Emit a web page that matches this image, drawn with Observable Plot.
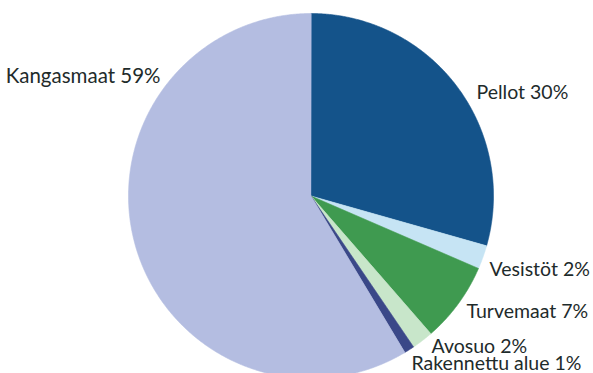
<!DOCTYPE html>
<html>
<head>
<meta charset="utf-8">
<script src="https://cdn.jsdelivr.net/npm/d3@7"></script>
<script src="https://cdn.jsdelivr.net/npm/@observablehq/plot@0.6"></script>
<style>
  html, body { margin: 0; padding: 0; background: #fff; }
  #chart svg { display: block; }
</style>
</head>
<body>
<div id="chart"></div>
<script>
// Data (clockwise from 12 o'clock)
const categories = ["Pellot", "Vesistöt", "Turvemaat", "Avosuo", "Rakennettu alue", "Kangasmaat"];
const shares = [29.4, 2.1, 7.1, 1.9, 0.9, 58.6];
const labels = ["Pellot 30%", "Vesistöt 2%", "Turvemaat 7%", "Avosuo 2%", "Rakennettu alue 1%", "Kangasmaat 59%"];
const colors = ["#14538a", "#c6e4f4", "#3f9a50", "#c8e6ca", "#3a4888", "#b4bde1"];

// Layout
const W = 593, H = 373;
const CX = 310.5, CY = 195.5, R = 182.5;
// label anchor points in pixels, and text-anchor
const labelLayout = [
  {px: 476, py: 92, anchor: "start"},
  {px: 489, py: 269, anchor: "start"},
  {px: 466, py: 311, anchor: "start"},
  {px: 431, py: 346, anchor: "start"},
  {px: 411, py: 363.5, anchor: "start"},
  {px: 160, py: 76, anchor: "end"}
];

const pie = d3.pie().sort(null).value(d => d.value);
const arcs = pie(categories.map((c, i) => ({category: c, value: shares[i]})));

const polyPoints = [];
for (const a of arcs) {
  const c = a.data.category;
  polyPoints.push({category: c, x: 0, y: 0});
  const steps = Math.max(2, Math.ceil((a.endAngle - a.startAngle) / 0.005));
  for (let k = 0; k <= steps; k++) {
    const t = a.startAngle + (a.endAngle - a.startAngle) * k / steps;
    polyPoints.push({category: c, x: Math.sin(t), y: Math.cos(t)});
  }
}

const labelData = labels.map((l, i) => ({
  text: l,
  x: (labelLayout[i].px - CX) / R,
  y: (CY - labelLayout[i].py) / R,
  anchor: labelLayout[i].anchor
}));

const chart = Plot.plot({
  width: W,
  height: H,
  margin: 0,
  x: {domain: [-CX / R, (W - CX) / R], axis: null},
  y: {domain: [-(H - CY) / R, CY / R], axis: null},
  color: {domain: categories, range: colors},
  style: {fontFamily: "Lato, 'Open Sans', sans-serif", background: "#fff"},
  marks: [
    Plot.line(polyPoints, {x: "x", y: "y", z: "category", fill: "category", stroke: "category", strokeWidth: 0.6, curve: "linear-closed"}),
    Plot.text(labelData.filter(d => d.anchor === "start"), {x: "x", y: "y", text: "text", textAnchor: "start", fontSize: 19.5, fill: "#1e2b2b"}),
    Plot.text(labelData.filter(d => d.anchor === "end"), {x: "x", y: "y", text: "text", textAnchor: "end", fontSize: 20.5, fill: "#1e2b2b"})
  ]
});
document.getElementById("chart").appendChild(chart);
</script>
</body>
</html>
